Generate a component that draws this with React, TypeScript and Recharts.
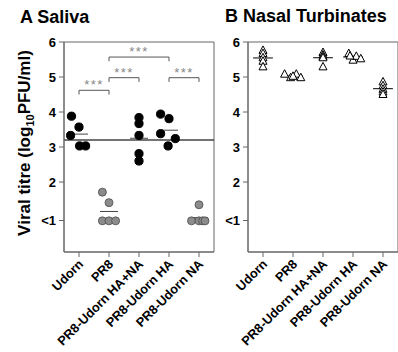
import React from 'react';
import {
  ScatterChart,
  Scatter,
  XAxis,
  YAxis,
  ReferenceLine,
  ReferenceArea,
  ReferenceDot,
} from 'recharts';

const FONT = '"Liberation Sans", Arial, sans-serif';

// groups along the x axis
const categories = ['Udorn', 'PR8', 'PR8-Udorn HA+NA', 'PR8-Udorn HA', 'PR8-Udorn NA'];

// y ticks; the lowest one is the "<1" detection limit
const yTicks = [0.9, 2, 3, 4, 5, 6];

// A: saliva titres per group, with horizontal jitter (in group widths)
const salivaValues = [
  [3.88, 3.57, 3.33, 3.03, 3.03],
  [1.71, 1.41, 0.89, 0.89, 0.89],
  [3.84, 3.67, 3.33, 2.81, 2.6],
  [3.94, 3.81, 3.38, 3.24, 3.03],
  [1.35, 0.89, 0.89, 0.89, 0.89],
];
const salivaJitter = [
  [-0.25, 0, -0.28, 0.02, 0.22],
  [-0.22, 0, -0.22, 0, 0.22],
  [0, 0, 0, 0, 0],
  [-0.28, 0, -0.28, 0.21, -0.03],
  [0, -0.25, 0, 0.12, 0.2],
];
const salivaGrey = [false, true, false, false, true];
const salivaRefLine = 3.2;

// significance brackets: [from group, to group, height]
const brackets = [
  [0, 1, 4.62],
  [1, 2, 4.98],
  [1, 3, 5.57],
  [3, 4, 4.98],
];

// B: nasal turbinate titres
const nasalValues = [
  [5.76, 5.67, 5.55, 5.45, 5.29],
  [5.08, 4.98, 5.08, 4.98, 5.02],
  [5.7, 5.63, 5.58, 5.55, 5.29],
  [5.67, 5.48, 5.59, 5.52, 5.6],
  [4.86, 4.75, 4.65, 4.57, 4.5],
];
const nasalJitter = [
  [0, 0, 0, 0, 0],
  [-0.28, -0.08, 0.11, 0.26, 0],
  [0, 0, 0, 0, 0],
  [-0.14, 0, 0.11, 0.26, -0.1],
  [0, 0, 0, 0, 0],
];

const toPoints = (values: number[], jitter: number[], group: number) =>
  values.map((v, i) => ({ x: group + jitter[i], y: v }));

const mean = (values: number[]) => values.reduce((a, b) => a + b, 0) / values.length;

const AXIS = '#666';

function BlackDot(props: any) {
  return <circle cx={props.cx} cy={props.cy} r={4.1} fill="#000" stroke="#000" />;
}

function GreyDot(props: any) {
  return <circle cx={props.cx} cy={props.cy} r={4} fill="#8c8c8c" stroke="#4a4a4a" strokeWidth={0.8} />;
}

function Triangle(props: any) {
  const { cx, cy } = props;
  return (
    <polygon
      points={`${cx},${cy - 4.5} ${cx - 4},${cy + 3} ${cx + 4},${cy + 3}`}
      fill="#fff"
      stroke="#000"
      strokeWidth={1}
    />
  );
}

function XTick(props: any) {
  const { x, y, payload } = props;
  const tx = x + 5;
  const ty = y + 6;
  return (
    <text
      x={tx}
      y={ty}
      transform={`rotate(-45 ${tx} ${ty})`}
      textAnchor="end"
      fontSize={12.8}
      fontWeight={700}
      fontFamily={FONT}
      fill="#000"
    >
      {categories[payload.value]}
    </text>
  );
}

const yTickStyle = { fontSize: 13, fontWeight: 700, fill: '#000', fontFamily: FONT };

function Panel({
  left,
  width,
  yWidth,
  children,
}: {
  left: number;
  width: number;
  yWidth: number;
  children: React.ReactNode;
}) {
  return (
    <div style={{ position: 'absolute', left, top: 0 }}>
      <ScatterChart width={width} height={352} margin={{ top: 42, right: width - yWidth - 150, bottom: 0, left: 0 }}>
        <XAxis
          type="number"
          dataKey="x"
          domain={[-0.5, 4.5]}
          ticks={[0, 1, 2, 3, 4]}
          interval={0}
          height={100}
          tickSize={5}
          tick={<XTick />}
          axisLine={{ stroke: AXIS }}
          tickLine={{ stroke: AXIS }}
          allowDataOverflow
        />
        <YAxis
          type="number"
          dataKey="y"
          domain={[0, 6]}
          ticks={yTicks}
          interval={0}
          width={yWidth}
          tickSize={5}
          tickMargin={3}
          tick={yTickStyle}
          tickFormatter={(v: number) => (v < 1 ? '<1' : String(v))}
          axisLine={{ stroke: AXIS }}
          tickLine={{ stroke: AXIS }}
          allowDataOverflow
        />
        <ReferenceArea x1={-0.5} x2={4.5} y1={0} y2={6} fill="none" stroke={AXIS} strokeWidth={1} />
        {children}
      </ScatterChart>
    </div>
  );
}

export default function App() {
  return (
    <div
      style={{
        position: 'absolute',
        left: 0,
        top: 0,
        width: 398,
        height: 352,
        overflow: 'hidden',
        background: '#fff',
        fontFamily: FONT,
      }}
    >
      <Panel left={0} width={220} yWidth={64}>
        <ReferenceLine y={salivaRefLine} stroke="#444" strokeWidth={1.3} />
        {salivaValues.map((vals, g) => (
          <ReferenceLine
            key={`m${g}`}
            segment={[
              { x: g - 0.3, y: mean(vals) },
              { x: g + 0.3, y: mean(vals) },
            ]}
            stroke="#444"
            strokeWidth={1}
          />
        ))}
        {brackets.map(([a, b, h], i) => (
          <ReferenceLine
            key={`b${i}`}
            segment={[
              { x: a, y: h },
              { x: b, y: h },
            ]}
            stroke="#555"
            strokeWidth={1}
          />
        ))}
        {brackets.flatMap(([a, b, h], i) =>
          [a, b].map((e, j) => (
            <ReferenceLine
              key={`l${i}-${j}`}
              segment={[
                { x: e, y: h },
                { x: e, y: h - 0.12 },
              ]}
              stroke="#555"
              strokeWidth={1}
            />
          ))
        )}
        {brackets.map(([a, b, h], i) => (
          <ReferenceDot
            key={`s${i}`}
            x={(a + b) / 2}
            y={h}
            r={0}
            shape={(p: any) => (
              <text
                x={p.cx}
                y={p.cy - 1}
                textAnchor="middle"
                fontSize={13}
                fontFamily={FONT}
                fill="#888"
                letterSpacing={1.5}
              >
                ***
              </text>
            )}
          />
        ))}
        {salivaValues.map((vals, g) => (
          <Scatter
            key={`p${g}`}
            data={toPoints(vals, salivaJitter[g], g)}
            shape={salivaGrey[g] ? <GreyDot /> : <BlackDot />}
            isAnimationActive={false}
          />
        ))}
      </Panel>

      <Panel left={200} width={200} yWidth={48}>
        {nasalValues.map((vals, g) => (
          <Scatter
            key={`t${g}`}
            data={toPoints(vals, nasalJitter[g], g)}
            shape={<Triangle />}
            isAnimationActive={false}
          />
        ))}
        {nasalValues.map((vals, g) => (
          <ReferenceLine
            key={`n${g}`}
            segment={[
              { x: g - 0.33, y: mean(vals) },
              { x: g + 0.33, y: mean(vals) },
            ]}
            stroke="#000"
            strokeWidth={1}
          />
        ))}
      </Panel>

      <svg
        width={398}
        height={352}
        style={{ position: 'absolute', left: 0, top: 0, pointerEvents: 'none' }}
        fontFamily={FONT}
        fontWeight={700}
      >
        <text x={20} y={23} fontSize={18}>
          A Saliva
        </text>
        <text x={225} y={22} fontSize={18}>
          B Nasal Turbinates
        </text>
        <text
          x={30}
          y={143}
          fontSize={17}
          textAnchor="middle"
          transform="rotate(-90 30 143)"
        >
          Viral titre (log
          <tspan fontSize={11} dy={4}>
            10
          </tspan>
          <tspan dy={-4}>PFU/ml)</tspan>
        </text>
      </svg>
    </div>
  );
}
